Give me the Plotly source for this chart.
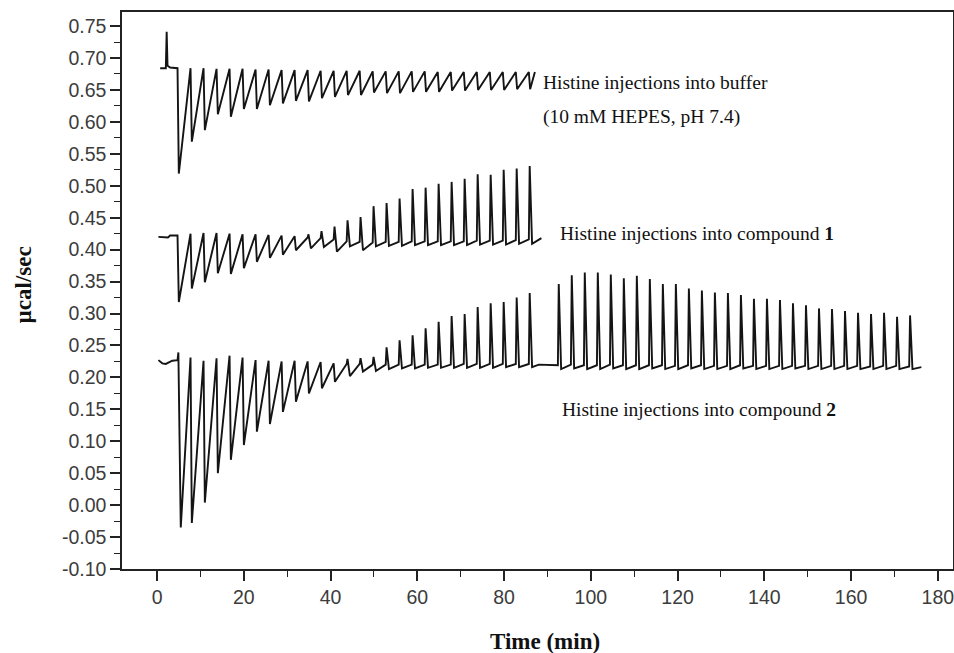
import plotly.graph_objects as go

# ---------------- data ----------------
x_tick_vals = [0, 20, 40, 60, 80, 100, 120, 140, 160, 180]
x_tick_text = ["0", "20", "40", "60", "80", "100", "120", "140", "160", "180"]
y_tick_vals = [-0.10, -0.05, 0.00, 0.05, 0.10, 0.15, 0.20, 0.25, 0.30, 0.35,
               0.40, 0.45, 0.50, 0.55, 0.60, 0.65, 0.70, 0.75]
y_tick_text = ["-0.10", "-0.05", "0.00", "0.05", "0.10", "0.15", "0.20", "0.25", "0.30",
               "0.35", "0.40", "0.45", "0.50", "0.55", "0.60", "0.65", "0.70", "0.75"]

# injection times (min), first run and second run
inj_t_a = [4.7, 7.7, 10.7, 13.7, 16.7, 19.7, 22.7, 25.7, 28.7, 31.7, 34.7, 37.7, 40.7, 43.7,
           46.7, 49.7, 52.7, 55.7, 58.7, 61.7, 64.7, 67.7, 70.7, 73.7, 76.7, 79.7, 82.7, 85.7]
inj_t_b = [92.4, 95.4, 98.4, 101.4, 104.4, 107.4, 110.4, 113.4, 116.4, 119.4, 122.4, 125.4,
           128.4, 131.4, 134.4, 137.4, 140.4, 143.4, 146.4, 149.4, 152.4, 155.4, 158.4, 161.4,
           164.4, 167.4, 170.4, 173.4]

# --- Histine into buffer ---
buf_lead_t = [0.7, 2.0, 2.2, 2.4, 3.0]
buf_lead_v = [0.684, 0.684, 0.741, 0.688, 0.685]
buf_pre = [0.684, 0.684, 0.684, 0.683, 0.683, 0.683, 0.682, 0.682, 0.681, 0.681, 0.681, 0.680,
           0.680, 0.680, 0.680, 0.679, 0.679, 0.679, 0.679, 0.679, 0.678, 0.678, 0.678, 0.678,
           0.678, 0.678, 0.678, 0.678]
buf_up = buf_pre
buf_dn = [0.519, 0.569, 0.587, 0.612, 0.608, 0.620, 0.620, 0.626, 0.629, 0.633, 0.632, 0.637,
          0.639, 0.642, 0.642, 0.646, 0.645, 0.645, 0.647, 0.647, 0.647, 0.649, 0.649, 0.650,
          0.650, 0.650, 0.651, 0.651]
buf_tail_t = [87.1]
buf_tail_v = [0.678]

# --- Histine into compound 1 ---
c1_lead_t = [0.3, 2.5, 3.0]
c1_lead_v = [0.420, 0.419, 0.422]
c1_pre = [0.422, 0.425, 0.426, 0.426, 0.425, 0.424, 0.424, 0.423, 0.422, 0.421, 0.419, 0.418,
          0.416, 0.413, 0.412, 0.411, 0.412, 0.412, 0.413, 0.413, 0.413, 0.413, 0.413, 0.414,
          0.414, 0.414, 0.415, 0.416]
c1_up = [0.422, 0.425, 0.426, 0.426, 0.425, 0.424, 0.424, 0.423, 0.422, 0.421, 0.424, 0.429,
         0.436, 0.446, 0.451, 0.468, 0.473, 0.480, 0.495, 0.497, 0.503, 0.506, 0.511, 0.518,
         0.517, 0.525, 0.527, 0.531]
c1_dn = [0.318, 0.339, 0.349, 0.363, 0.362, 0.371, 0.381, 0.387, 0.392, 0.399, 0.402, 0.404,
         0.397, 0.405, 0.399, 0.405, 0.406, 0.406, 0.407, 0.407, 0.407, 0.407, 0.407, 0.408,
         0.408, 0.408, 0.409, 0.409]
c1_tail_t = [88.6]
c1_tail_v = [0.418]

# --- Histine into compound 2 (two runs) ---
c2_lead_t = [0.3, 1.2, 2.0, 3.5]
c2_lead_v = [0.227, 0.222, 0.221, 0.226]
c2a_pre = [0.227, 0.231, 0.226, 0.230, 0.234, 0.231, 0.227, 0.226, 0.225, 0.226, 0.225, 0.224,
           0.222, 0.221, 0.221, 0.220, 0.220, 0.220, 0.220, 0.220, 0.220, 0.220, 0.221, 0.221,
           0.221, 0.221, 0.221, 0.221]
c2a_up = [0.239, 0.231, 0.226, 0.230, 0.234, 0.231, 0.227, 0.226, 0.225, 0.226, 0.225, 0.224,
          0.222, 0.229, 0.230, 0.232, 0.247, 0.258, 0.266, 0.277, 0.287, 0.296, 0.299, 0.310,
          0.316, 0.318, 0.325, 0.332]
c2a_dn = [-0.035, -0.028, 0.004, 0.050, 0.071, 0.094, 0.115, 0.127, 0.146, 0.162, 0.175, 0.183,
          0.193, 0.202, 0.209, 0.210, 0.213, 0.214, 0.214, 0.215, 0.215, 0.215, 0.215, 0.215,
          0.215, 0.216, 0.216, 0.216]
c2_gap_t = [88.0, 90.5]
c2_gap_v = [0.220, 0.219]
c2b_pre = [0.219, 0.220, 0.219, 0.219, 0.220, 0.219, 0.219, 0.219, 0.219, 0.218, 0.219, 0.219,
           0.218, 0.218, 0.219, 0.218, 0.218, 0.218, 0.218, 0.218, 0.218, 0.218, 0.218, 0.218,
           0.217, 0.218, 0.218, 0.217]
c2b_up = [0.346, 0.360, 0.364, 0.364, 0.361, 0.355, 0.359, 0.354, 0.346, 0.346, 0.339, 0.336,
          0.333, 0.332, 0.329, 0.323, 0.323, 0.321, 0.316, 0.313, 0.308, 0.307, 0.304, 0.301,
          0.299, 0.301, 0.295, 0.297]
c2b_dn = [0.213, 0.214, 0.213, 0.213, 0.214, 0.213, 0.213, 0.214, 0.213, 0.213, 0.214, 0.213,
          0.213, 0.213, 0.214, 0.213, 0.213, 0.213, 0.214, 0.213, 0.213, 0.213, 0.213, 0.213,
          0.213, 0.213, 0.213, 0.213]
c2_tail_t = [176.2]
c2_tail_v = [0.216]

labels = {
    "buffer": "Histine injections into buffer",
    "hepes": "(10 mM HEPES, pH 7.4)",
    "c1": "Histine injections into compound <b>1</b>",
    "c2": "Histine injections into compound <b>2</b>",
}


# ---------------- build thermogram paths ----------------
def injections(inj, pre, up, dn):
    xs, ys = [], []
    for t, p, u, d in zip(inj, pre, up, dn):
        if u > p:  # spike upwards, then a small dip
            xs += [t, t + 0.2, t + 0.75]
            ys += [p, u, d]
        else:      # sharp drop, then recovery towards the next injection
            xs += [t, t + 0.3]
            ys += [p, d]
    return xs, ys


def trace_path(parts):
    xs, ys = [], []
    for px, py in parts:
        xs += list(px)
        ys += list(py)
    return xs, ys


bx, by = trace_path([(buf_lead_t, buf_lead_v),
                     injections(inj_t_a, buf_pre, buf_up, buf_dn),
                     (buf_tail_t, buf_tail_v)])
c1x, c1y = trace_path([(c1_lead_t, c1_lead_v),
                       injections(inj_t_a, c1_pre, c1_up, c1_dn),
                       (c1_tail_t, c1_tail_v)])
c2x, c2y = trace_path([(c2_lead_t, c2_lead_v),
                       injections(inj_t_a, c2a_pre, c2a_up, c2a_dn),
                       (c2_gap_t, c2_gap_v),
                       injections(inj_t_b, c2b_pre, c2b_up, c2b_dn),
                       (c2_tail_t, c2_tail_v)])

line_style = dict(color="#141414", width=1.9)
fig = go.Figure()
for xs, ys, nm in [(bx, by, "buffer"), (c1x, c1y, "compound 1"), (c2x, c2y, "compound 2")]:
    fig.add_trace(go.Scatter(x=xs, y=ys, mode="lines", line=line_style, name=nm,
                             showlegend=False, cliponaxis=False))

axis_color = "#222222"
tick_font = dict(family="Liberation Sans, Arial, sans-serif", size=19.5, color="#3c3c3c")
fig.update_xaxes(range=[-8.1, 183.5], showline=True, linecolor=axis_color, linewidth=1.5,
                 mirror=True, ticks="outside", ticklen=10, tickwidth=1.5, tickcolor=axis_color,
                 tickvals=x_tick_vals, ticktext=x_tick_text, tickfont=tick_font,
                 showgrid=False, zeroline=False, automargin=False, ticklabeloverflow="allow",
                 minor=dict(tick0=0, dtick=10, ticks="outside", ticklen=6, tickwidth=1.3,
                            tickcolor=axis_color, showgrid=False))
fig.update_yaxes(range=[-0.1, 0.772], showline=True, linecolor=axis_color, linewidth=1.5,
                 mirror=True, ticks="outside", ticklen=10, tickwidth=1.5, tickcolor=axis_color,
                 tickvals=y_tick_vals, ticktext=y_tick_text, tickfont=tick_font,
                 showgrid=False, zeroline=False, automargin=False, ticklabeloverflow="allow",
                 minor=dict(tick0=0, dtick=0.025, ticks="outside", ticklen=6, tickwidth=1.3,
                            tickcolor=axis_color, showgrid=False))

serif = "Liberation Serif, Times New Roman, serif"
ann_font = dict(family=serif, size=19.5, color="#111111")
annotations = [
    dict(x=88.5, y=0.661, text=labels["buffer"]),
    dict(x=88.5, y=0.608, text=labels["hepes"]),
    dict(x=92.4, y=0.426, text=labels["c1"]),
    dict(x=92.9, y=0.149, text=labels["c2"]),
]
for a in annotations:
    fig.add_annotation(xref="x", yref="y", xanchor="left", yanchor="middle",
                       showarrow=False, font=ann_font, **a)

title_font = dict(family=serif, size=23, color="#111111")
fig.add_annotation(xref="paper", yref="paper", x=0.509, y=-0.13, text="<b>Time (min)</b>",
                   showarrow=False, xanchor="center", yanchor="middle", font=title_font)
fig.add_annotation(xref="paper", yref="paper", x=-0.1185, y=0.51, text="<b>µcal/sec</b>",
                   textangle=-90, showarrow=False, xanchor="center", yanchor="middle",
                   font=title_font)

fig.update_layout(width=954, height=653, margin=dict(l=122, r=1, t=12, b=84),
                  plot_bgcolor="white", paper_bgcolor="white", showlegend=False)

# remove the default page margin so the figure sits at the window's corner
fig.write_html("out.html",
               config={"displayModeBar": False},
               post_script="document.body.style.margin='0';"
                           "document.body.style.overflow='hidden';")
